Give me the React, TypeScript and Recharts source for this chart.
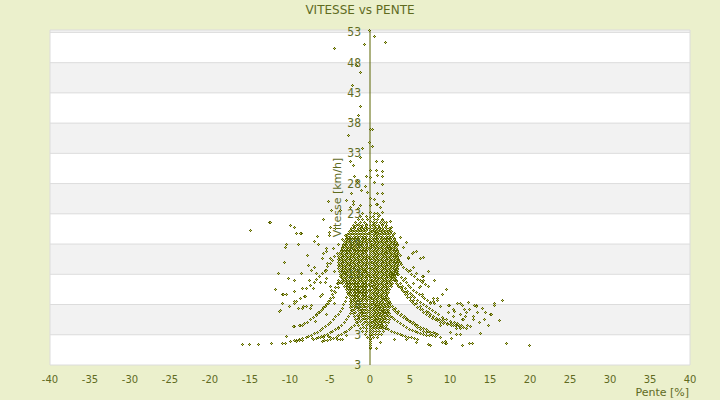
import { CartesianGrid, ReferenceLine, Scatter, ScatterChart, XAxis, YAxis } from "recharts";

// Pente [%] vs Vitesse [km/h] scatter, y axis crossing at pente = 0.
const W = 720;
const H = 400;
const Y_AXIS_W = 1;
const M = { top: 30, right: 30, bottom: 15, left: 49 };
const PLOT_LEFT = M.left + Y_AXIS_W;
const ZERO_X = PLOT_LEFT + (W - PLOT_LEFT - M.right) / 2;

const OLIVE = "#5b6400";
const SPECK = "#c8cf70";
const TEXT = "#5f6b1f";
const GRID = "#dcdcdc";

const xTicks = [-40, -35, -30, -25, -20, -15, -10, -5, 0, 5, 10, 15, 20, 25, 30, 35, 40];
const yTicks = [-2, 3, 8, 13, 18, 23, 28, 33, 38, 43, 48, 53];
const yTickLabels = ["3", "3", "8", "13", "18", "23", "28", "33", "38", "43", "48", "53"];

type P = [number, number];

const upperPoints: P[] = [
  [-0.1, 53.4], [0.55, 52.3], [1.9, 51.3], [-0.7, 51], [-4.5, 50.3], [-1.7, 47.5], [-1.2, 46.4],
  [-2.2, 44.3], [-1.2, 40.8], [-1.5, 39.3], [-2.7, 36], [0, 37], [0.3, 36.9], [-0.1, 34.8],
  [0.3, 34.1], [-1, 33.8], [-1.25, 32.3], [-2.4, 31.6], [0.75, 31.6], [1.5, 31.7], [-2.1, 31],
  [0, 30.2], [0.75, 30.2], [1.5, 30], [1, 29.4], [-0.5, 29.2], [1.5, 29.2], [-1.9, 29.1], [0, 29],
  [-1.6, 28.3], [1.5, 27.8], [-0.3, 26.5], [-2.3, 26.3], [1, 26.3], [1.5, 26.3], [-2.9, 25.2],
  [-2.1, 25], [1.7, 25], [1, 24.6], [-5.2, 25], [-4.8, 23.6], [-5.8, 22.1], [-3.75, 23.5],
  [-2.5, 24], [-2.1, 24.6], [-1.5, 23.8], [-1.2, 24.3], [-0.9, 23], [0.8, 24.6], [1.25, 24],
  [1.5, 23.2], [1.2, 22.7], [1.5, 21.9], [2.1, 21.6], [2.5, 21.7], [2.7, 20.8], [3.1, 19.7],
  [3.75, 19.1], [-5, 20.8], [-5.1, 19.9], [-3.1, 19.4], [-3.5, 18.7], [-0.6, 27.5], [0.5, 28.1],
  [-1.1, 26.9], [0.6, 25.4],
];

const leftPoints: P[] = [
  [-14.9, 20.3], [-12.6, 21.6], [-12.4, 21.5], [-9.9, 21.1], [-9.5, 20.7], [-9.2, 19.8], [-8.6, 19.7],
  [-9, 17.9], [-10.4, 17.9], [-10.6, 17.5], [-10.7, 15], [-11.5, 13.1], [-11.8, 10.5], [-10.2, 12.3],
  [-9.5, 11.9], [-8.6, 13.1], [-7.8, 16.1], [-7.7, 14.4], [-6.9, 18.4], [-6.5, 18], [-5.1, 19.4],
  [-10.9, 9.6], [-10.4, 9.6], [-11.3, 6.8], [-11, 8.2], [-10.1, 7.6], [-9.5, 8.2], [-9.2, 8.5],
  [-9, 7.4], [-8.3, 7.6], [-8.25, 9.3], [-8.5, 10.6], [-7.9, 10.6], [-7.6, 12], [-7.1, 10.6],
  [-6.25, 9.3], [-6, 9.6], [-7.4, 7.4], [-8.75, 4.6], [-9.4, 4.4], [-10.4, 2.7], [-8.75, 19.7],
  [-5.4, 17.2], [-6, 15.6], [-6.9, 14.2], [-7.3, 13.7], [-5.3, 14.8], [-6.7, 13.1], [-5.6, 13.4],
  [-6.25, 11.7], [-5.4, 12.3], [-4.8, 10.4], [-10.8, 9.7], [-9.4, 10.1], [-9.4, 8.5], [-8.75, 9],
  [-8.1, 9.3], [-8.5, 7.4], [-7.9, 7.6], [-7.3, 7.9], [-11.25, 7], [-9.6, 4.4], [-8.8, 4.5],
  [-5.4, 16.7], [-5.8, 16.4], [-5, 15.6], [-4.1, 16.4], [-4.6, 17.2], [-4, 18], [-5.4, 13.7],
  [-4.4, 13.4], [-5.6, 11.7], [-5, 10.9], [-4, 11.5], [-6.6, 19.2], [-4.3, 20.5], [-4.5, 8.2],
  [-5.5, 6.3], [-6.8, 5.2], [-3.9, 4], [-3, 2.9],
];

const rightPoints: P[] = [
  [8.1, 12], [9, 9.6], [9.9, 7.9], [11, 8.2], [11.5, 7.9], [12.3, 8.4], [13.25, 7.8], [15.6, 8.2],
  [15.5, 7.9], [11.75, 7.2], [12.4, 7.1], [10.6, 6.8], [11.9, 6], [14.4, 6.6], [15, 6.3], [13.4, 6.6],
  [13.7, 5.1], [14.25, 5.6], [16.2, 5.3], [14.8, 4.6], [12.2, 4.5], [12.9, 5.5], [11.2, 4.6],
  [10.8, 4.1], [9.8, 6.6], [9.2, 5.5], [8.75, 4.6], [11.5, 5.5], [10.4, 6], [7.9, 9], [8.5, 8.6],
  [8.75, 7.6], [7.5, 8.2], [6.6, 9.6], [6.7, 12.7], [6.7, 15.7], [5.4, 16.6], [5.8, 16.8],
  [5.4, 14.2], [4.8, 15.6], [4.2, 17.5], [4.6, 18.3], [5.3, 16.4], [4.8, 15.8], [6.25, 15.6],
  [3.75, 16.1], [5, 13.7], [5.8, 13.1], [6.7, 12], [6.25, 10.9], [5.4, 11.5], [4.4, 12.3],
  [6.5, 12.7], [6.2, 10.8], [15.2, 6.3], [13.3, 7.6], [12.1, 6.6], [12.9, 6], [11.7, 5.5],
  [12.5, 4.4], [11.25, 4.1], [10.2, 4.9], [11.25, 6.4], [10.4, 7.1], [9.8, 7.9], [11.25, 8.2],
  [13.1, 7.8], [8.5, 9], [7.9, 8.5], [16.5, 8.6], [14, 7.3], [9.6, 10.5], [7.3, 13.5],
];

const bottomPoints: P[] = [
  [-16, 1.4], [-15.1, 1.4], [-14, 1.4], [-12.3, 1.5], [-10.9, 1.6], [-10.6, 1.6], [-9.9, 1.9],
  [-9.25, 1.9], [-8.8, 2], [-8.4, 2.1], [-7.2, 2.3], [-6.25, 2.6], [-5.8, 2.5], [-5.2, 2.7],
  [-5, 2.6], [-4.1, 2.2], [-3.75, 2.2], [-3.4, 2.2], [0.8, 0.8], [1.3, 1.7], [3.1, 2.2], [4.6, 2.2],
  [6, 2.2], [5.8, 1.7], [7.3, 1.4], [7.5, 1.2], [9.1, 1.7], [9.4, 1.6], [9.6, 1.6], [11.5, 1.2],
  [12.4, 1.5], [12.8, 1.5], [17.1, 1.6], [19.9, 1.2], [13.75, 3.2], [10.2, 2.3], [9.4, 1.9],
  [10, 3.3], [11.25, 3], [10.8, 3],
];

const rightArcs: P[][] = [
  [[0.8, 20], [1, 19.3], [1.2, 18.5], [1.45, 17.7], [1.7, 17], [1.95, 16.4], [2.2, 15.8], [2.5, 15.1], [2.8, 14.5], [3.05, 14], [3.3, 13.5], [3.6, 13], [3.9, 12.5], [4.2, 12], [4.5, 11.6], [4.8, 11.2], [5.1, 10.8], [5.45, 10.4], [5.8, 10], [6.15, 9.6], [6.5, 9.3], [6.85, 9], [7.2, 8.7], [7.6, 8.4], [8, 8.1]],
  [[1.25, 15.3], [1.5, 14.85], [1.8, 14.4], [2.1, 13.95], [2.4, 13.5], [2.7, 13.05], [3, 12.6], [3.35, 12.05], [3.75, 11.5], [4.05, 11.05], [4.4, 10.6], [4.7, 10.2], [5, 9.8], [5.3, 9.45], [5.6, 9.1], [5.95, 8.7], [6.3, 8.3], [6.7, 7.95], [7.1, 7.6], [7.45, 7.3], [7.8, 7], [8.2, 6.65], [8.6, 6.3], [9.1, 5.9], [9.6, 5.5], [10.05, 5.25], [10.5, 5], [10.95, 4.8], [11.4, 4.6]],
  [[2.5, 13.2], [2.75, 12.7], [3, 12.2], [3.25, 11.75], [3.5, 11.3], [3.8, 10.85], [4.1, 10.4], [4.4, 10], [4.7, 9.6], [5.05, 9.15], [5.4, 8.7], [5.8, 8.15], [6.25, 7.6], [6.6, 7.25], [7, 6.9], [7.3, 6.6], [7.6, 6.3], [7.95, 6], [8.3, 5.7], [8.65, 5.5], [9, 5.3], [9.35, 5.1], [9.7, 4.9], [10.05, 4.75], [10.4, 4.6], [10.8, 4.45], [11.2, 4.3], [11.65, 4.2], [12.1, 4.1]],
  [[0.4, 10.9], [0.7, 10.45], [1, 10], [1.3, 9.6], [1.6, 9.2], [1.9, 8.75], [2.2, 8.3], [2.55, 7.7], [2.9, 7.1], [3.2, 6.8], [3.5, 6.5], [3.85, 6.2], [4.2, 5.9], [4.5, 5.65], [4.8, 5.4], [5.1, 5.2], [5.4, 5], [5.7, 4.75], [6, 4.5], [6.35, 4.25], [6.7, 4], [7, 3.8], [7.3, 3.6], [7.6, 3.45], [7.9, 3.3], [8.2, 3.2], [8.5, 3.1]],
  [[0.5, 8.5], [0.85, 8.05], [1.2, 7.6], [1.5, 7.25], [1.8, 6.9], [2.15, 6.5], [2.5, 6.1], [2.8, 5.8], [3.1, 5.5], [3.45, 5.2], [3.8, 4.9], [4.2, 4.55], [4.6, 4.2], [4.95, 3.95], [5.3, 3.7], [5.65, 3.5], [6, 3.3], [6.35, 3.15], [6.7, 3], [7.05, 2.9], [7.4, 2.8]],
  [[2.5, 8.2], [2.85, 7.75], [3.2, 7.3], [3.55, 6.85], [3.9, 6.4], [4.25, 5.95], [4.6, 5.5], [4.95, 5.15], [5.3, 4.8], [5.65, 4.5], [6, 4.2], [6.35, 3.9], [6.7, 3.6], [7.1, 3.3], [7.5, 3], [7.85, 2.85], [8.2, 2.7], [8.75, 2.5]],
  [[3.3, 11.5], [3.6, 11.05], [3.9, 10.6], [4.15, 10.15], [4.4, 9.7], [4.7, 9.2], [5, 8.7], [5.3, 8.35], [5.6, 8], [5.95, 7.55], [6.3, 7.1], [6.7, 6.7], [7.1, 6.3], [7.45, 6], [7.8, 5.7], [8.15, 5.5], [8.5, 5.3], [8.85, 5.1], [9.2, 4.9], [9.7, 4.75], [10.2, 4.6], [10.7, 4.5], [11.25, 4.4]],
  [[0.3, 6], [0.55, 5.65], [0.8, 5.3], [1.1, 4.95], [1.4, 4.6], [1.7, 4.35], [2, 4.1], [2.35, 3.85], [2.7, 3.6], [3.05, 3.4], [3.4, 3.2], [3.75, 3.05], [4.1, 2.9], [4.45, 2.75], [4.8, 2.6], [5.15, 2.5], [5.5, 2.4]],
  [[1.5, 19], [1.8, 18.4], [2.1, 17.8], [2.4, 17.2], [2.7, 16.6], [3, 16.1], [3.3, 15.6], [3.6, 15.1], [3.9, 14.6], [4.2, 14.2], [4.5, 13.8], [4.85, 13.4], [5.2, 13], [5.55, 12.6], [5.9, 12.2], [6.25, 11.9], [6.6, 11.6], [6.95, 11.3], [7.3, 11]],
];

const leftArcs: P[][] = [
  [[-7.1, 2.2], [-6.75, 2.4], [-6.4, 2.6], [-6.05, 2.75], [-5.7, 2.9], [-5.35, 3.1], [-5, 3.3], [-4.65, 3.6], [-4.3, 3.9], [-3.95, 4.25], [-3.6, 4.6], [-3.25, 5.05], [-2.9, 5.5], [-2.65, 6], [-2.4, 6.5], [-2.2, 7.05], [-2, 7.6], [-1.8, 8.15], [-1.6, 8.7], [-1.45, 9.5], [-1.3, 10.3], [-1.1, 11.15], [-0.9, 12], [-0.8, 12.75], [-0.7, 13.5]],
  [[-7.5, 5.5], [-7.1, 5.9], [-6.7, 6.3], [-6.3, 6.7], [-5.9, 7.1], [-5.55, 7.6], [-5.2, 8.1], [-4.9, 8.65], [-4.6, 9.2], [-4.3, 10], [-4, 10.8], [-3.7, 11.65], [-3.4, 12.5], [-3.15, 13.25], [-2.9, 14], [-2.7, 14.65], [-2.5, 15.3], [-2.35, 15.9], [-2.2, 16.5], [-2.05, 17.25], [-1.9, 18]],
  [[-9.5, 2], [-9.15, 2.1], [-8.8, 2.2], [-8.4, 2.35], [-8, 2.5], [-7.65, 2.7], [-7.3, 2.9], [-6.95, 3.15], [-6.6, 3.4], [-6.25, 3.7], [-5.9, 4], [-5.55, 4.35], [-5.2, 4.7], [-4.9, 5.1], [-4.6, 5.5], [-4.3, 5.95], [-4, 6.4], [-3.75, 6.9], [-3.5, 7.4], [-3.3, 7.95], [-3.1, 8.5], [-2.9, 9.1], [-2.7, 9.7], [-2.55, 10.35], [-2.4, 11]],
  [[-6, 1.9], [-5.65, 2], [-5.3, 2.1], [-4.95, 2.25], [-4.6, 2.4], [-4.25, 2.6], [-3.9, 2.8], [-3.55, 3.05], [-3.2, 3.3], [-2.9, 3.6], [-2.6, 3.9], [-2.3, 4.25], [-2, 4.6], [-1.75, 5.05], [-1.5, 5.5], [-1.3, 6], [-1.1, 6.5], [-0.95, 7.05], [-0.8, 7.6]],
  [[-8.5, 4.6], [-8.15, 4.85], [-7.8, 5.1], [-7.45, 5.45], [-7.1, 5.8], [-6.75, 6.2], [-6.4, 6.6], [-6.1, 7.05], [-5.8, 7.5], [-5.5, 8], [-5.2, 8.5], [-4.95, 9.05], [-4.7, 9.6], [-4.5, 10.2], [-4.3, 10.8], [-4.1, 11.4], [-3.9, 12], [-3.7, 12.65], [-3.5, 13.3], [-3.35, 13.9], [-3.2, 14.5]],
  [[-7.9, 10.6], [-7.45, 11.1], [-7, 11.6], [-6.65, 12.1], [-6.3, 12.6], [-5.95, 13.15], [-5.6, 13.7], [-5.3, 14.25], [-5, 14.8], [-4.75, 15.35], [-4.5, 15.9]],
];

// dense core, one row per speed: [vitesse, pentes]
const coreRows: [number, number[]][] = [
  [23.0, [-0.9, 0.5, 1.0]],
  [22.5, [-1.2, -0.5, 0.4, 1.1]],
  [22.0, [-1.5, -0.9, -0.3, 0.5, 1.0, 1.6]],
  [21.5, [-1.8, -1.2, -0.7, 0.4, 0.8, 1.3, 1.8]],
  [21.25, [-1.5, -0.4, 0.6, 1.5]],
  [21.0, [-2.1, -1.7, -1.3, -0.9, -0.4, 0.3, 0.7, 1.1, 1.5, 2.0]],
  [20.75, [-1.9, -1.1, -0.6, 0.5, 1.2, 1.9]],
  [20.5, [-2.3, -1.9, -1.5, -1.1, -0.7, -0.3, 0.4, 0.8, 1.2, 1.6, 2.1, 2.4]],
  [20.25, [-2.4, -2.0, -1.6, -1.2, -0.8, -0.4, 0.5, 0.9, 1.3, 1.7, 2.1, 2.5]],
  [20.0, [-2.6, -2.2, -1.8, -1.4, -1.0, -0.6, 0.3, 0.7, 1.1, 1.5, 1.9, 2.3, 2.7]],
  [19.75, [-2.6, -2.2, -1.8, -1.4, -1.0, -0.6, -0.2, 0.6, 1.0, 1.4, 1.8, 2.2, 2.6]],
  [19.5, [-2.8, -2.4, -2.0, -1.6, -1.2, -0.8, -0.4, 0.4, 0.8, 1.2, 1.6, 2.0, 2.4, 2.9]],
  [19.25, [-2.8, -2.4, -2.0, -1.6, -1.2, -0.8, -0.4, 0.5, 0.8, 1.2, 1.6, 2.0, 2.4, 2.8]],
  [19.0, [-3.0, -2.6, -2.2, -1.8, -1.4, -1.0, -0.6, 0.3, 0.6, 1.0, 1.4, 1.8, 2.2, 2.6, 3.0]],
  [18.75, [-3.0, -2.6, -2.2, -1.8, -1.4, -1.0, -0.6, -0.2, 0.6, 1.0, 1.4, 1.8, 2.2, 2.6, 3.0]],
  [18.5, [-3.2, -2.8, -2.4, -2.0, -1.6, -1.2, -0.8, -0.4, 0.4, 0.8, 1.2, 1.6, 2.0, 2.4, 2.8, 3.2]],
  [18.25, [-3.1, -2.7, -2.3, -1.9, -1.5, -1.1, -0.7, -0.3, 0.5, 0.9, 1.3, 1.7, 2.1, 2.5, 2.9, 3.3]],
  [18.0, [-3.3, -2.9, -2.5, -2.1, -1.7, -1.3, -0.9, -0.5, 0.3, 0.7, 1.1, 1.5, 1.9, 2.3, 2.7, 3.1, 3.4]],
  [17.75, [-3.3, -2.9, -2.5, -2.1, -1.7, -1.3, -0.9, -0.5, 0.2, 0.6, 1.0, 1.4, 1.8, 2.2, 2.6, 3.0, 3.4]],
  [17.5, [-3.5, -3.1, -2.7, -2.3, -1.9, -1.5, -1.1, -0.7, -0.3, 0.4, 0.8, 1.2, 1.6, 2.0, 2.4, 2.8, 3.2]],
  [17.25, [-3.4, -3.0, -2.6, -2.2, -1.8, -1.4, -1.0, -0.6, -0.2, 0.5, 0.9, 1.3, 1.7, 2.1, 2.5, 2.9, 3.3]],
  [17.0, [-3.6, -3.2, -2.8, -2.4, -2.0, -1.6, -1.2, -0.8, -0.4, 0.3, 0.7, 1.1, 1.5, 1.9, 2.3, 2.7, 3.1, 3.5]],
  [16.75, [-3.6, -3.2, -2.8, -2.4, -2.0, -1.6, -1.2, -0.8, -0.4, 0.2, 0.6, 1.0, 1.4, 1.8, 2.2, 2.6, 3.0, 3.4]],
  [16.5, [-3.8, -3.4, -3.0, -2.6, -2.2, -1.8, -1.4, -1.0, -0.6, 0.4, 0.8, 1.2, 1.6, 2.0, 2.4, 2.8, 3.2, 3.6]],
  [16.25, [-3.7, -3.3, -2.9, -2.5, -2.1, -1.7, -1.3, -0.9, -0.5, 0.5, 0.9, 1.3, 1.7, 2.1, 2.5, 2.9, 3.3]],
  [16.0, [-3.9, -3.5, -3.1, -2.7, -2.3, -1.9, -1.5, -1.1, -0.7, -0.3, 0.3, 0.7, 1.1, 1.5, 1.9, 2.3, 2.7, 3.1, 3.5]],
  [15.75, [-3.8, -3.4, -3.0, -2.6, -2.2, -1.8, -1.4, -1.0, -0.6, -0.2, 0.6, 1.0, 1.4, 1.8, 2.2, 2.6, 3.0, 3.4]],
  [15.5, [-4.0, -3.6, -3.2, -2.8, -2.4, -2.0, -1.6, -1.2, -0.8, -0.4, 0.4, 0.8, 1.2, 1.6, 2.0, 2.4, 2.8, 3.2, 3.6]],
  [15.25, [-3.7, -3.3, -2.9, -2.5, -2.1, -1.7, -1.3, -0.9, -0.5, 0.5, 0.9, 1.3, 1.7, 2.1, 2.5, 2.9, 3.3, 3.6]],
  [15.0, [-3.9, -3.5, -3.1, -2.7, -2.3, -1.9, -1.5, -1.1, -0.7, -0.3, 0.3, 0.7, 1.1, 1.5, 1.9, 2.3, 2.7, 3.1, 3.5, 3.8]],
  [14.75, [-3.8, -3.4, -3.0, -2.6, -2.2, -1.8, -1.4, -1.0, -0.6, -0.2, 0.6, 1.0, 1.4, 1.8, 2.2, 2.6, 3.0, 3.4]],
  [14.5, [-4.0, -3.6, -3.2, -2.8, -2.4, -2.0, -1.6, -1.2, -0.8, -0.4, 0.4, 0.8, 1.2, 1.6, 2.0, 2.4, 2.8, 3.2, 3.6]],
  [14.25, [-3.7, -3.3, -2.9, -2.5, -2.1, -1.7, -1.3, -0.9, -0.5, 0.5, 0.9, 1.3, 1.7, 2.1, 2.5, 2.9, 3.3]],
  [14.0, [-3.9, -3.5, -3.1, -2.7, -2.3, -1.9, -1.5, -1.1, -0.7, -0.3, 0.3, 0.7, 1.1, 1.5, 1.9, 2.3, 2.7, 3.1, 3.5]],
  [13.75, [-3.6, -3.2, -2.8, -2.4, -2.0, -1.6, -1.2, -0.8, -0.4, 0.2, 0.6, 1.0, 1.4, 1.8, 2.2, 2.6, 3.0, 3.4]],
  [13.5, [-3.8, -3.4, -3.0, -2.6, -2.2, -1.8, -1.4, -1.0, -0.6, 0.4, 0.8, 1.2, 1.6, 2.0, 2.4, 2.8, 3.2, 3.5]],
  [13.25, [-3.5, -3.1, -2.7, -2.3, -1.9, -1.5, -1.1, -0.7, -0.3, 0.5, 0.9, 1.3, 1.7, 2.1, 2.5, 2.9, 3.3]],
  [13.0, [-3.7, -3.3, -2.9, -2.5, -2.1, -1.7, -1.3, -0.9, -0.5, 0.3, 0.7, 1.1, 1.5, 1.9, 2.3, 2.7, 3.1, 3.4]],
  [12.75, [-3.4, -3.0, -2.6, -2.2, -1.8, -1.4, -1.0, -0.6, -0.2, 0.6, 1.0, 1.4, 1.8, 2.2, 2.6, 3.0]],
  [12.5, [-3.6, -3.2, -2.8, -2.4, -2.0, -1.6, -1.2, -0.8, -0.4, 0.4, 0.8, 1.2, 1.6, 2.0, 2.4, 2.8, 3.2]],
  [12.25, [-3.3, -2.9, -2.5, -2.1, -1.7, -1.3, -0.9, -0.5, 0.5, 0.9, 1.3, 1.7, 2.1, 2.5, 2.9]],
  [12.0, [-3.5, -3.1, -2.7, -2.3, -1.9, -1.5, -1.1, -0.7, -0.3, 0.3, 0.7, 1.1, 1.5, 1.9, 2.3, 2.7, 3.1]],
  [11.75, [-3.2, -2.8, -2.4, -2.0, -1.6, -1.2, -0.8, -0.4, 0.2, 0.6, 1.0, 1.4, 1.8, 2.2, 2.6]],
  [11.5, [-3.4, -3.0, -2.6, -2.2, -1.8, -1.4, -1.0, -0.6, 0.4, 0.8, 1.2, 1.6, 2.0, 2.4, 2.8]],
  [11.25, [-3.0, -2.6, -2.2, -1.8, -1.4, -1.0, -0.6, -0.2, 0.5, 0.9, 1.3, 1.7, 2.1, 2.5]],
  [11.0, [-3.2, -2.8, -2.4, -2.0, -1.6, -1.2, -0.8, -0.4, 0.3, 0.7, 1.1, 1.5, 1.9, 2.3, 2.7]],
  [10.75, [-2.8, -2.4, -2.0, -1.6, -1.2, -0.8, -0.4, 0.6, 1.0, 1.4, 1.8, 2.2]],
  [10.5, [-3.0, -2.6, -2.2, -1.8, -1.4, -1.0, -0.6, 0.4, 0.8, 1.2, 1.6, 2.0, 2.4]],
  [10.25, [-2.6, -2.2, -1.8, -1.4, -1.0, -0.6, -0.2, 0.5, 0.9, 1.3, 1.7, 2.1]],
  [10.0, [-2.8, -2.4, -2.0, -1.6, -1.2, -0.8, -0.4, 0.3, 0.7, 1.1, 1.5, 1.9, 2.3]],
  [9.75, [-2.4, -2.0, -1.6, -1.2, -0.8, -0.4, 0.2, 0.6, 1.0, 1.4, 1.8, 2.2]],
  [9.5, [-2.6, -2.2, -1.8, -1.4, -1.0, -0.6, 0.4, 0.8, 1.2, 1.6, 2.0]],
  [9.25, [-2.2, -1.8, -1.4, -1.0, -0.6, -0.2, 0.5, 0.9, 1.3, 1.7, 2.1]],
  [9.0, [-2.4, -2.0, -1.6, -1.2, -0.8, -0.4, 0.3, 0.7, 1.1, 1.5, 1.9, 2.3]],
  [8.75, [-2.3, -1.9, -1.5, -1.1, -0.7, -0.3, 0.6, 1.0, 1.4, 1.8, 2.2]],
  [8.5, [-2.5, -2.1, -1.7, -1.3, -0.9, -0.5, 0.4, 0.8, 1.2, 1.6, 2.0, 2.4]],
  [8.25, [-2.3, -1.7, -1.3, -0.9, -0.5, 0.5, 0.9, 1.3, 1.7, 2.1]],
  [8.0, [-2.5, -1.9, -1.5, -1.1, -0.7, -0.3, 0.3, 0.7, 1.1, 1.5, 1.9, 2.3]],
  [7.75, [-2.2, -1.5, -1.1, -0.7, -0.3, 0.6, 1.0, 1.4, 1.8, 2.2]],
  [7.5, [-2.4, -1.7, -1.3, -0.9, -0.5, 0.4, 0.8, 1.2, 1.6, 2.0, 2.4]],
  [7.25, [-1.9, -1.3, -0.9, -0.5, 0.5, 0.9, 1.3, 1.7, 2.1]],
  [7.0, [-2.3, -1.5, -1.1, -0.7, -0.3, 0.3, 0.7, 1.1, 1.5, 1.9, 2.3]],
  [6.75, [-1.8, -1.1, -0.7, -0.3, 0.6, 1.0, 1.4, 1.8, 2.2]],
  [6.5, [-2.1, -1.3, -0.9, -0.5, 0.4, 0.8, 1.2, 1.6, 2.0, 2.4]],
  [6.25, [-1.6, -0.9, -0.5, 0.5, 0.9, 1.3, 1.7, 2.1]],
  [6.0, [-2.0, -1.1, -0.7, -0.3, 0.3, 0.7, 1.1, 1.5, 1.9, 2.3]],
  [5.75, [-1.4, -0.7, -0.3, 0.6, 1.0, 1.4, 1.8]],
  [5.5, [-1.8, -0.9, -0.5, 0.4, 0.8, 1.2, 1.6, 2.0, 2.4]],
  [5.25, [-1.2, -0.5, 0.5, 0.9, 1.3, 1.7]],
  [5.0, [-1.6, -0.7, -0.3, 0.3, 0.7, 1.1, 1.5, 1.9, 2.3]],
  [4.75, [-1.0, -0.3, 0.6, 1.0, 1.4]],
  [4.5, [-1.4, -0.5, 0.4, 0.8, 1.2, 1.6, 2.1]],
  [4.25, [-0.8, 0.5, 0.9, 1.3]],
  [4.0, [-1.2, -0.4, 0.3, 0.7, 1.1, 1.5, 1.9]],
  [3.5, [-1.0, -0.5, 0.4, 0.8, 1.2, 1.7]],
  [3.0, [-0.6, 0.3, 0.7, 1.1, 1.4]],
  [2.5, [-0.3, 0.4, 1.0]],
];

// speeds logged on flat ground (pente = 0)
const flatSpeeds = [
  0.7, 0.95, 1.3, 1.55, 1.9, 2.2, 2.45, 2.8, 3.1, 3.35, 3.7, 4.0, 4.3, 4.55, 4.9, 5.2, 5.45, 5.8,
  6.1, 6.4, 6.65, 7.0, 7.3, 7.55, 7.9, 8.2, 8.45, 8.8, 9.1, 9.4, 9.65, 10.0, 10.3, 10.55, 10.9,
  11.2, 11.45, 11.8, 12.1, 12.4, 12.65, 13.0, 13.3, 13.55, 13.9, 14.2, 14.45, 14.8, 15.1, 15.4,
  15.65, 16.0, 16.3, 16.55, 16.9, 17.2, 17.45, 17.8, 18.1, 18.4, 18.65, 19.0, 19.3, 19.55, 19.9,
  20.3, 20.6, 21.1, 21.7, 22.4, 23.3, 24.4, 25.6,
];

const points = [
  ...coreRows.flatMap(([y, xs]) => xs.map((x) => [x, y] as P)),
  ...flatSpeeds.map((y) => [0, y] as P),
  ...leftArcs.flat(),
  ...rightArcs.flat(),
  ...upperPoints,
  ...leftPoints,
  ...rightPoints,
  ...bottomPoints,
].map(([x, y]) => ({ x, y }));

function Marker({ cx, cy }: any) {
  if (cx == null || cy == null) return null;
  const x = Math.floor(cx);
  const y = Math.floor(cy);
  return (
    <g shapeRendering="crispEdges">
      <rect x={x - 1} y={y} width={3} height={1} fill={OLIVE} />
      <rect x={x} y={y - 1} width={1} height={3} fill={OLIVE} />
      <rect x={x} y={y} width={1} height={1} fill={SPECK} />
    </g>
  );
}

function YTick({ y, payload }: any) {
  return (
    <text
      x={ZERO_X - 9}
      y={y}
      textAnchor="end"
      dominantBaseline="central"
      fontSize={12}
      fontFamily="DejaVu Sans Condensed, DejaVu Sans"
      fill={TEXT}
    >
      {yTickLabels[yTicks.indexOf(payload.value)]}
    </text>
  );
}

function YTitle({ viewBox }: any) {
  const cx = viewBox.x - 33;
  const cy = viewBox.y + viewBox.height / 2;
  return (
    <text
      x={cx}
      y={cy}
      transform={`rotate(-90 ${cx} ${cy})`}
      textAnchor="middle"
      dominantBaseline="central"
      fontSize={11}
      fontFamily="DejaVu Sans"
      fill={TEXT}
    >
      Vitesse [km/h]
    </text>
  );
}

export default function App() {
  return (
    <div
      style={{
        position: "absolute",
        left: 0,
        top: 0,
        width: W,
        height: H,
        background: "#ebf0cc",
        fontFamily: "DejaVu Sans",
        color: TEXT,
      }}
    >
      <div style={{ position: "absolute", top: 3, left: 0, width: W, textAlign: "center", fontSize: 12, lineHeight: "14px" }}>
        VITESSE vs PENTE
      </div>
      <ScatterChart width={W} height={H} margin={M}>
        <CartesianGrid vertical={false} stroke={GRID} horizontalFill={["#f2f2f2", "#ffffff"]} fillOpacity={1} />
        <XAxis
          type="number"
          dataKey="x"
          domain={[-40, 40]}
          ticks={xTicks}
          interval={0}
          height={20}
          axisLine={false}
          tickLine={false}
          tickMargin={5}
          tick={{ fill: TEXT, fontSize: 10, fontFamily: "DejaVu Sans" }}
        />
        <YAxis
          type="number"
          dataKey="y"
          domain={[-2, 53]}
          ticks={yTicks}
          interval={0}
          width={Y_AXIS_W}
          axisLine={false}
          tickLine={false}
          tick={(props: any) => <YTick {...props} />}
        />
        <ReferenceLine x={-40} stroke={GRID} />
        <ReferenceLine x={40} stroke={GRID} />
        <ReferenceLine x={0} stroke={OLIVE} label={<YTitle />} />
        <Scatter data={points} shape={<Marker />} isAnimationActive={false} />
      </ScatterChart>
      <div style={{ position: "absolute", right: 31, top: 386, fontSize: 11, lineHeight: "14px" }}>Pente [%]</div>
    </div>
  );
}
